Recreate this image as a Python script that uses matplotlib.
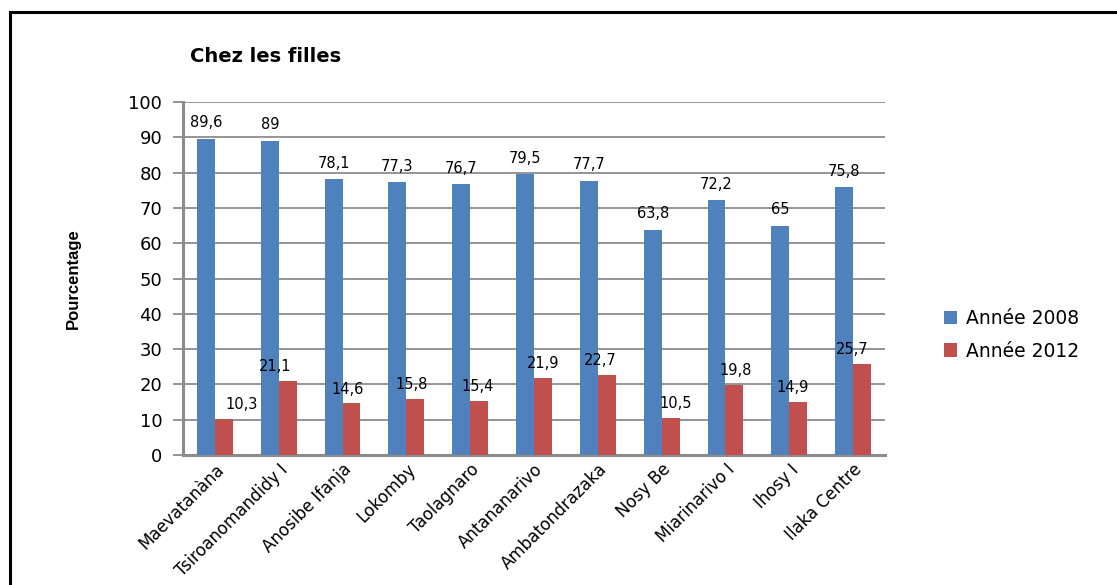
import matplotlib.pyplot as plt
import numpy as np
from matplotlib.patches import Rectangle

categories = ['Maevatanàna', 'Tsiroanomandidy I', 'Anosibe Ifanja', 'Lokomby', 'Taolagnaro',
              'Antananarivo', 'Ambatondrazaka', 'Nosy Be', 'Miarinarivo I', 'Ihosy I', 'Ilaka Centre']
annee_2008 = [89.6, 89, 78.1, 77.3, 76.7, 79.5, 77.7, 63.8, 72.2, 65, 75.8]
annee_2012 = [10.3, 21.1, 14.6, 15.8, 15.4, 21.9, 22.7, 10.5, 19.8, 14.9, 25.7]

# horizontal nudges of the red labels (points), as in the original
red_dx = [13, -9, -3, -3, -1, 0, -5, 4, 1, -4, -7]

blue = '#4F81BD'
red = '#C0504D'
grid_c = '#8C8C8C'

fig = plt.figure(figsize=(11.17, 5.85), dpi=100)
ax = fig.add_axes([183 / 1117, 1 - 455 / 585, (885 - 183) / 1117, (455 - 102) / 585])

# outer frame
fig.patches.append(Rectangle((10 / 1117, -0.05), 1.2, 1 - 12 / 585 + 0.05, transform=fig.transFigure,
                             fill=False, edgecolor='black', linewidth=2.2))

x = np.arange(len(categories))
w = 0.28
b1 = ax.bar(x - w / 2, annee_2008, w, color=blue, label='Année 2008', zorder=3)
b2 = ax.bar(x + w / 2, annee_2012, w, color=red, label='Année 2012', zorder=3)

def fmt(v):
    s = ('%g' % v).replace('.', ',')
    return s

for r, v in zip(b1, annee_2008):
    ax.annotate(fmt(v), (r.get_x() + r.get_width() / 2, v), xytext=(0, 6),
                textcoords='offset points', ha='center', va='bottom', fontsize=10.5)
for r, v, dx in zip(b2, annee_2012, red_dx):
    ax.annotate(fmt(v), (r.get_x() + r.get_width() / 2, v), xytext=(dx, 5),
                textcoords='offset points', ha='center', va='bottom', fontsize=10.5)

ax.set_xlim(-0.5, len(categories) - 0.5)
ax.set_ylim(0, 100)
ax.set_yticks(range(0, 101, 10))
ax.yaxis.grid(True, color=grid_c, linewidth=1.3, zorder=0)
ax.set_axisbelow(True)
for s in ['top', 'right']:
    ax.spines[s].set_visible(False)
ax.spines['left'].set_color(grid_c)
ax.spines['left'].set_linewidth(2.2)
ax.spines['bottom'].set_color(grid_c)
ax.spines['bottom'].set_linewidth(2.2)
ax.tick_params(axis='y', length=7, width=1.3, color=grid_c, labelsize=13, pad=8)
ax.tick_params(axis='x', length=0, pad=4)
ax.set_xticks(x)
ax.set_xticklabels(categories, rotation=45, ha='right', rotation_mode='anchor', fontsize=12)

ax.set_ylabel('Pourcentage', family=['Liberation Sans', 'DejaVu Sans'],
              fontweight='bold', fontsize=12, labelpad=34)
fig.text(190 / 1117, 1 - 57 / 585, 'Chez les filles', fontsize=14, fontweight='bold',
         va='center', ha='left')

ax.legend(loc='center left', bbox_to_anchor=(1.06, 0.34), frameon=False, fontsize=13.5,
          handlelength=0.7, handleheight=0.7, labelspacing=0.7, handletextpad=0.5)

fig.savefig('out.png', dpi=100)
